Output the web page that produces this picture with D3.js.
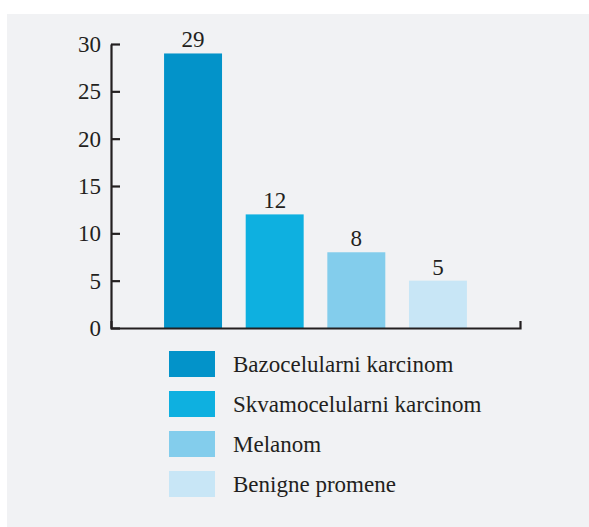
<!DOCTYPE html>
<html>
<head>
<meta charset="utf-8">
<script src="https://cdn.jsdelivr.net/npm/d3@7"></script>
<style>
	body { margin: 0; background: #fff; }
	svg text { font-family: "Liberation Serif", "DejaVu Serif", serif; fill: #231f20; }
	.axis path, .axis line { stroke: #231f20; stroke-width: 2.2; }
	.axis text { font-size: 23px; font-family: "Liberation Serif", serif; fill: #231f20; }
</style>
</head>
<body>
<div id="chart"></div>
<script>
// data
var categories = ["Bazocelularni karcinom", "Skvamocelularni karcinom", "Melanom", "Benigne promene"]
var values = [29, 12, 8, 5]
var colors = ["#0393c9", "#0eb0e0", "#83cdec", "#c8e6f6"]
var yTicks = [0, 5, 10, 15, 20, 25, 30]

var WIDTH = 589
var HEIGHT = 527

var svg = d3.select("#chart").append("svg")
	.attr("width", WIDTH)
	.attr("height", HEIGHT)

// grey panel
svg.append("rect")
	.attr("x", 7)
	.attr("y", 14)
	.attr("width", WIDTH - 7)
	.attr("height", HEIGHT - 14)
	.attr("fill", "#f1f2f4")

var x = d3.scaleBand()
	.domain(categories)
	.range([111, 520])
	.paddingInner(0.29)
	.paddingOuter(0.65)

var y = d3.scaleLinear()
	.domain([0, 30])
	.range([328, 44])

svg.selectAll(".bar")
	.data(values)
	.enter()
	.append("rect")
	.attr("class", "bar")
	.attr("x", function(d,i){ return x(categories[i]) })
	.attr("y", function(d){ return y(d) })
	.attr("width", x.bandwidth())
	.attr("height", function(d){ return y(0) - y(d) })
	.attr("fill", function(d,i){ return colors[i] })

svg.selectAll(".valueLabel")
	.data(values)
	.enter()
	.append("text")
	.attr("class", "valueLabel")
	.attr("x", function(d,i){ return x(categories[i]) + x.bandwidth()/2 })
	.attr("y", function(d){ return y(d) - 6 })
	.attr("text-anchor", "middle")
	.style("font-size", "23px")
	.text(function(d){ return d })

// y axis, ticks pointing inwards
svg.append("g")
	.attr("class", "y axis")
	.attr("transform", "translate(111,0)")
	.call(d3.axisLeft(y).tickValues(yTicks).tickSizeInner(-9).tickSizeOuter(0).tickPadding(10).tickFormat(d3.format("d")))

// x axis: just the baseline with a small end tick
svg.append("g")
	.attr("class", "x axis")
	.attr("transform", "translate(0,328)")
	.call(d3.axisBottom(x).tickValues([]).tickSizeOuter(-7))

// legend
var legend = svg.selectAll(".legendItem")
	.data(categories)
	.enter()
	.append("g")
	.attr("class", "legendItem")
	.attr("transform", function(d,i){ return "translate(169," + (351 + i*40) + ")" })

legend.append("rect")
	.attr("width", 46)
	.attr("height", 26)
	.attr("fill", function(d,i){ return colors[i] })

legend.append("text")
	.attr("x", 64)
	.attr("y", 21)
	.style("font-size", "23px")
	.text(function(d){ return d })
</script>
</body>
</html>
